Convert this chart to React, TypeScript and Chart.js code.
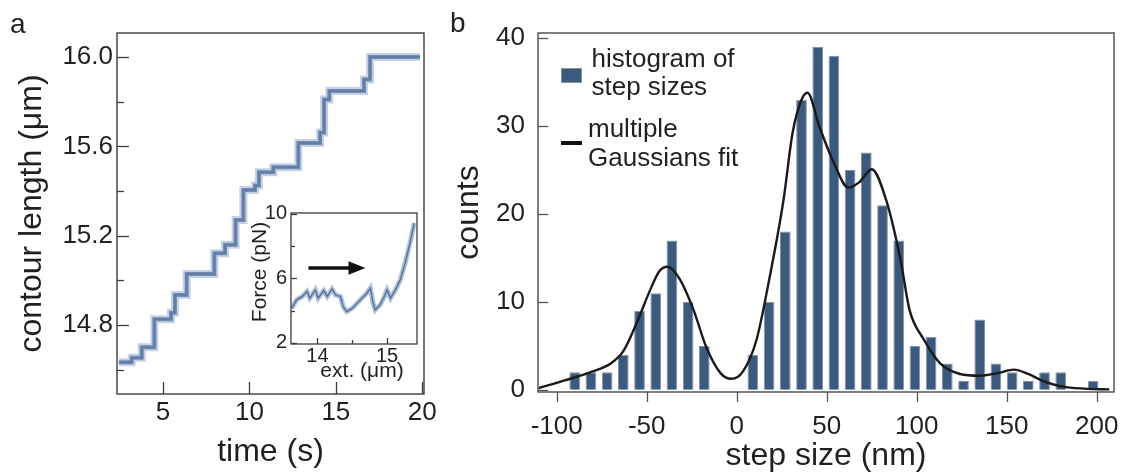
import React, { useEffect, useRef } from 'react';
import { Chart, registerables } from 'chart.js';

Chart.register(...registerables);

const FONT = '"Liberation Sans", Arial, Helvetica, sans-serif';
const INK = '#231f20';

// ---------- panel a: contour length vs time (step fit) ----------
const stepTimes = [2.45, 3.19, 3.77, 4.5, 5.46, 5.69, 6.37, 7.97, 8.59, 9.2, 9.65, 10.32, 10.55, 11.38, 12.83, 14.09, 14.32, 14.62, 16.63, 16.98, 19.87];
const stepLevels = [14.633, 14.653, 14.7, 14.826, 14.855, 14.935, 15.029, 15.121, 15.159, 15.27, 15.405, 15.425, 15.484, 15.507, 15.615, 15.662, 15.81, 15.848, 15.9, 16.001, 16.001];
const timeTicks = [5, 10, 15, 20];
const lengthTicks = [14.8, 15.2, 15.6, 16.0];
const lengthMinorTicks = [14.6, 15.0, 15.4, 15.8];

// ---------- inset: force vs extension ----------
const extValues = [13.63, 13.7, 13.78, 13.85, 13.89, 13.97, 14.01, 14.09, 14.14, 14.21, 14.26, 14.33, 14.37, 14.42, 14.5, 14.57, 14.64, 14.71, 14.76, 14.8, 14.83, 14.9, 14.96, 15.0, 15.05, 15.12, 15.19, 15.26, 15.34, 15.39];
const forceValues = [4.14, 4.66, 4.87, 5.18, 4.77, 5.28, 4.77, 5.24, 4.87, 5.33, 4.97, 4.87, 4.24, 3.93, 4.14, 4.45, 4.77, 5.08, 5.39, 4.45, 4.03, 4.35, 4.87, 5.28, 4.77, 5.28, 5.91, 6.95, 8.4, 9.44];
const extTicks = [14, 15];
const extMinorTicks = [14.5];
const forceTicks = [2, 6, 10];
const forceMinorTicks = [4, 8];
const arrowFrom = 13.87;
const arrowTo = 14.69;
const arrowForce = 6.64;
const insetXTitle = 'ext. (μm)';
const insetYTitle = 'Force (pN)';

// ---------- panel b: histogram of step sizes ----------
const binCenters = [-90, -81, -72, -63, -54, -45, -36, -27, -18, 9, 18, 27, 36, 45, 54, 63, 72, 81, 90, 99, 108, 117, 126, 135, 144, 153, 162, 171, 180, 198];
const binCounts = [2, 2, 2, 4, 9, 11, 17, 10, 5, 4, 10, 18, 33, 39, 38, 25, 27, 21, 17, 5, 6, 3, 1, 8, 3, 2, 1, 2, 2, 1];
const fitSteps = [-110, -95, -80, -70, -63, -56, -48, -43, -38.5, -32, -24, -17, -9, -3, 3.5, 11, 18, 26, 31, 36, 39.3, 46, 54, 62, 68, 75, 83, 91, 96, 104, 113, 124, 135, 145, 154, 162, 169, 176, 183, 195, 207];
const fitCounts = [0.2, 1.1, 2.1, 3.0, 4.4, 7.4, 11.4, 13.5, 14.0, 12.7, 9.1, 4.9, 1.9, 1.25, 2.1, 5.7, 12.5, 21.6, 29.2, 33.0, 33.8, 29.9, 25.8, 23.0, 23.6, 25.1, 21.6, 14.8, 9.1, 5.7, 3.0, 1.8, 1.6, 1.9, 2.3, 1.8, 1.1, 0.6, 0.3, 0.1, 0.05];
const stepSizeTicks = [-100, -50, 0, 50, 100, 150, 200];
const countTicks = [0, 10, 20, 30, 40];
const legendHist = ['histogram of', 'step sizes'];
const legendFit = ['multiple', 'Gaussians fit'];

const BAR_FILL = '#3b5a80';
const BAR_EDGE = '#8a929c';

type TickSpec = { axis: 'x' | 'y'; values: number[]; len: number; inward: boolean };

function decor(opts: {
  frameColor: string;
  frameWidth: number;
  ticks: TickSpec[];
  whiteFill?: boolean;
  extra?: (chart: any) => void;
}) {
  return {
    id: 'decor',
    beforeDraw(chart: any) {
      if (!opts.whiteFill) return;
      const { ctx, chartArea: a } = chart;
      ctx.save();
      ctx.fillStyle = '#ffffff';
      ctx.fillRect(a.left, a.top, a.right - a.left, a.bottom - a.top);
      ctx.restore();
    },
    afterDraw(chart: any) {
      const { ctx, chartArea: a } = chart;
      const xs = chart.scales.x;
      const ys = chart.scales.y;
      ctx.save();
      ctx.strokeStyle = opts.frameColor;
      ctx.lineWidth = 1.3;
      for (const t of opts.ticks) {
        for (const v of t.values) {
          ctx.beginPath();
          if (t.axis === 'x') {
            const px = Math.round(xs.getPixelForValue(v)) + 0.5;
            ctx.moveTo(px, a.bottom);
            ctx.lineTo(px, a.bottom + (t.inward ? -t.len : t.len));
          } else {
            const py = Math.round(ys.getPixelForValue(v)) + 0.5;
            ctx.moveTo(a.left, py);
            ctx.lineTo(a.left + (t.inward ? t.len : -t.len), py);
          }
          ctx.stroke();
        }
      }
      ctx.lineWidth = opts.frameWidth;
      ctx.strokeRect(a.left, a.top, a.right - a.left, a.bottom - a.top);
      if (opts.extra) opts.extra(chart);
      ctx.restore();
    },
  };
}

const fixWidth = (w: number) => (s: any) => {
  s.width = w;
  s.paddingTop = 0;
  s.paddingBottom = 0;
  s.paddingLeft = 0;
  s.paddingRight = 0;
};
const fixHeight = (h: number) => (s: any) => {
  s.height = h;
  s.paddingTop = 0;
  s.paddingBottom = 0;
  s.paddingLeft = 0;
  s.paddingRight = 0;
};
const setTicks = (vals: number[]) => (s: any) => {
  s.ticks = vals.map((v) => ({ value: v }));
};

function App() {
  const aRef = useRef<HTMLCanvasElement | null>(null);
  const insetRef = useRef<HTMLCanvasElement | null>(null);
  const bRef = useRef<HTMLCanvasElement | null>(null);

  useEffect(() => {
    const stepData = stepTimes.map((t, i) => ({ x: t, y: stepLevels[i] }));

    const chartA = new Chart(aRef.current as HTMLCanvasElement, {
      type: 'line',
      data: {
        datasets: [
          { label: 'trace halo', data: stepData, stepped: 'before', borderColor: 'rgba(140,165,205,0.5)', borderWidth: 8, pointRadius: 0, fill: false },
          { label: 'trace', data: stepData, stepped: 'before', borderColor: 'rgba(62,92,140,0.85)', borderWidth: 4, pointRadius: 0, fill: false },
          { label: 'step fit', data: stepData, stepped: 'before', borderColor: '#1b1b1b', borderWidth: 1.8, pointRadius: 0, fill: false },
        ],
      },
      options: {
        responsive: false,
        animation: false,
        devicePixelRatio: 1,
        events: [],
        layout: { padding: { left: 0, top: 33, right: 16, bottom: 0 } },
        plugins: { legend: { display: false }, tooltip: { enabled: false } },
        scales: {
          x: {
            type: 'linear',
            min: 2.338,
            max: 20.1,
            grid: { display: false, drawTicks: false },
            border: { display: false },
            ticks: { font: { family: FONT, size: 26, lineHeight: 1.2 }, color: INK, padding: 3, maxRotation: 0, callback: (v: any) => String(v) },
            title: { display: true, text: 'time (s)', font: { family: FONT, size: 32, lineHeight: 1 }, color: INK, padding: { top: 0, bottom: 5 } },
            afterBuildTicks: setTicks(timeTicks),
            afterFit: fixHeight(79),
          },
          y: {
            type: 'linear',
            min: 14.491,
            max: 16.108,
            grid: { display: false, drawTicks: false },
            border: { display: false },
            ticks: { font: { family: FONT, size: 26, lineHeight: 1.2 }, color: INK, padding: 4, callback: (v: any) => Number(v).toFixed(1) },
            title: { display: true, text: 'contour length (μm)', font: { family: FONT, size: 32, lineHeight: 1 }, color: INK, padding: { top: 16, bottom: 0 } },
            afterBuildTicks: setTicks(lengthTicks),
            afterFit: fixWidth(117),
          },
        },
      },
      plugins: [
        decor({
          frameColor: '#3c3c3c',
          frameWidth: 1.4,
          ticks: [
            { axis: 'x', values: timeTicks, len: 12, inward: true },
            { axis: 'y', values: lengthTicks, len: 12, inward: true },
            { axis: 'y', values: lengthMinorTicks, len: 7, inward: true },
          ],
          extra: (chart: any) => {
            const ctx = chart.ctx;
            ctx.fillStyle = INK;
            ctx.font = `28px ${FONT}`;
            ctx.textAlign = 'left';
            ctx.textBaseline = 'alphabetic';
            ctx.fillText('a', 10, 33);
          },
        }) as any,
      ],
    } as any);

    const forceData = extValues.map((e, i) => ({ x: e, y: forceValues[i] }));
    const inset = new Chart(insetRef.current as HTMLCanvasElement, {
      type: 'line',
      data: {
        datasets: [
          { label: 'force halo', data: forceData, borderColor: 'rgba(125,155,200,0.6)', borderWidth: 5, pointRadius: 0, tension: 0, fill: false },
          { label: 'force', data: forceData, borderColor: '#2b3d5c', borderWidth: 1.6, pointRadius: 0, tension: 0, fill: false },
        ],
      },
      options: {
        responsive: false,
        animation: false,
        devicePixelRatio: 1,
        events: [],
        layout: { padding: { left: 0, top: 13, right: 13, bottom: 0 } },
        plugins: { legend: { display: false }, tooltip: { enabled: false } },
        scales: {
          x: {
            type: 'linear',
            min: 13.62,
            max: 15.43,
            grid: { display: false, drawTicks: false },
            border: { display: false },
            ticks: { font: { family: FONT, size: 20, lineHeight: 1.2 }, color: INK, padding: 0, maxRotation: 0, callback: (v: any) => String(v) },
            title: { display: false, text: insetXTitle },
            afterBuildTicks: setTicks(extTicks),
            afterFit: fixHeight(46),
          },
          y: {
            type: 'linear',
            min: 1.92,
            max: 10.06,
            grid: { display: false, drawTicks: false },
            border: { display: false },
            ticks: { font: { family: FONT, size: 20, lineHeight: 1.2 }, color: INK, padding: 4, callback: (v: any) => String(v) },
            title: { display: false, text: insetYTitle },
            afterBuildTicks: setTicks(forceTicks),
            afterFit: fixWidth(61),
          },
        },
      },
      plugins: [
        decor({
          frameColor: '#3c3c3c',
          frameWidth: 1.3,
          whiteFill: true,
          ticks: [
            { axis: 'x', values: extTicks, len: 6, inward: true },
            { axis: 'x', values: extMinorTicks, len: 4, inward: true },
            { axis: 'y', values: forceTicks, len: 6, inward: true },
            { axis: 'y', values: forceMinorTicks, len: 4, inward: true },
          ],
          extra: (chart: any) => {
            const ctx = chart.ctx;
            const xs = chart.scales.x;
            const ys = chart.scales.y;
            const x0 = xs.getPixelForValue(arrowFrom);
            const x1 = xs.getPixelForValue(arrowTo);
            const y = ys.getPixelForValue(arrowForce);
            const head = 17;
            ctx.strokeStyle = '#111';
            ctx.fillStyle = '#111';
            ctx.lineWidth = 3.5;
            ctx.beginPath();
            ctx.moveTo(x0, y);
            ctx.lineTo(x1 - head + 2, y);
            ctx.stroke();
            ctx.beginPath();
            ctx.moveTo(x1, y);
            ctx.lineTo(x1 - head, y - 6.7);
            ctx.lineTo(x1 - head, y + 6.7);
            ctx.closePath();
            ctx.fill();
            // axis titles
            ctx.fillStyle = INK;
            ctx.font = `21px ${FONT}`;
            ctx.textAlign = 'center';
            ctx.textBaseline = 'middle';
            ctx.fillText(insetXTitle, 132, 171);
            ctx.save();
            ctx.translate(30, 72);
            ctx.rotate(-Math.PI / 2);
            ctx.fillText(insetYTitle, 0, 0);
            ctx.restore();
          },
        }) as any,
      ],
    } as any);

    const barData = binCenters.map((c, i) => ({ x: c, y: binCounts[i] }));
    const fitData = fitSteps.map((s, i) => ({ x: s, y: fitCounts[i] }));
    const chartB = new Chart(bRef.current as HTMLCanvasElement, {
      type: 'bar',
      data: {
        datasets: [
          { type: 'line', label: 'multiple Gaussians fit', data: fitData, borderColor: '#1a1a1a', borderWidth: 2.4, pointRadius: 0, cubicInterpolationMode: 'monotone', fill: false, order: 0 },
          { type: 'bar', label: 'histogram of step sizes', data: barData, backgroundColor: BAR_FILL, borderColor: BAR_EDGE, borderWidth: 1, barPercentage: 0.66, categoryPercentage: 1, order: 1 },
        ],
      },
      options: {
        responsive: false,
        animation: false,
        devicePixelRatio: 1,
        events: [],
        layout: { padding: { left: 0, top: 33, right: 16, bottom: 0 } },
        plugins: { legend: { display: false }, tooltip: { enabled: false } },
        scales: {
          x: {
            type: 'linear',
            min: -110.4,
            max: 209.6,
            offset: false,
            grid: { display: false, drawTicks: false, offset: false },
            border: { display: false },
            ticks: { font: { family: FONT, size: 26, lineHeight: 1.2 }, color: INK, padding: 19, maxRotation: 0, callback: (v: any) => String(v) },
            title: { display: true, text: 'step size (nm)', font: { family: FONT, size: 32, lineHeight: 1 }, color: INK, padding: { top: 0, bottom: 1 } },
            afterBuildTicks: setTicks(stepSizeTicks),
            afterFit: fixHeight(81),
          },
          y: {
            type: 'linear',
            min: -0.25,
            max: 40.6,
            grid: { display: false, drawTicks: false },
            border: { display: false },
            ticks: { font: { family: FONT, size: 26, lineHeight: 1.2 }, color: INK, padding: 13, callback: (v: any) => String(v) },
            title: { display: true, text: 'counts', font: { family: FONT, size: 32, lineHeight: 1 }, color: INK, padding: { top: 13, bottom: 0 } },
            afterBuildTicks: setTicks(countTicks),
            afterFit: fixWidth(98),
          },
        },
      },
      plugins: [
        decor({
          frameColor: '#555555',
          frameWidth: 1.5,
          ticks: [
            { axis: 'x', values: stepSizeTicks, len: 10, inward: false },
            { axis: 'y', values: countTicks, len: 10, inward: true },
          ],
          extra: (chart: any) => {
            const ctx = chart.ctx;
            // legend
            ctx.fillStyle = BAR_FILL;
            ctx.fillRect(121, 68, 21, 15);
            ctx.strokeStyle = BAR_EDGE;
            ctx.lineWidth = 1;
            ctx.strokeRect(121.5, 68.5, 20, 14);
            ctx.fillStyle = '#111';
            ctx.fillRect(121, 141, 21, 4);
            ctx.fillStyle = INK;
            ctx.font = `26px ${FONT}`;
            ctx.textAlign = 'left';
            ctx.textBaseline = 'alphabetic';
            legendHist.forEach((t, i) => ctx.fillText(t, 151.5, 66.7 + i * 28.5));
            legendFit.forEach((t, i) => ctx.fillText(t, 148, 136.7 + i * 29));
            // panel label
            ctx.font = `28px ${FONT}`;
            ctx.fillText('b', 10, 32);
          },
        }) as any,
      ],
    } as any);

    return () => {
      chartA.destroy();
      inset.destroy();
      chartB.destroy();
    };
  }, []);

  return (
    <div style={{ position: 'absolute', left: 0, top: 0, width: 1130, height: 473, background: '#ffffff', overflow: 'hidden' }}>
      <canvas ref={aRef} width={440} height={473} style={{ position: 'absolute', left: 0, top: 0, width: 440, height: 473 }} />
      <canvas ref={insetRef} width={200} height={190} style={{ position: 'absolute', left: 230, top: 200, width: 200, height: 190 }} />
      <canvas ref={bRef} width={690} height={473} style={{ position: 'absolute', left: 440, top: 0, width: 690, height: 473 }} />
    </div>
  );
}

export default App;
